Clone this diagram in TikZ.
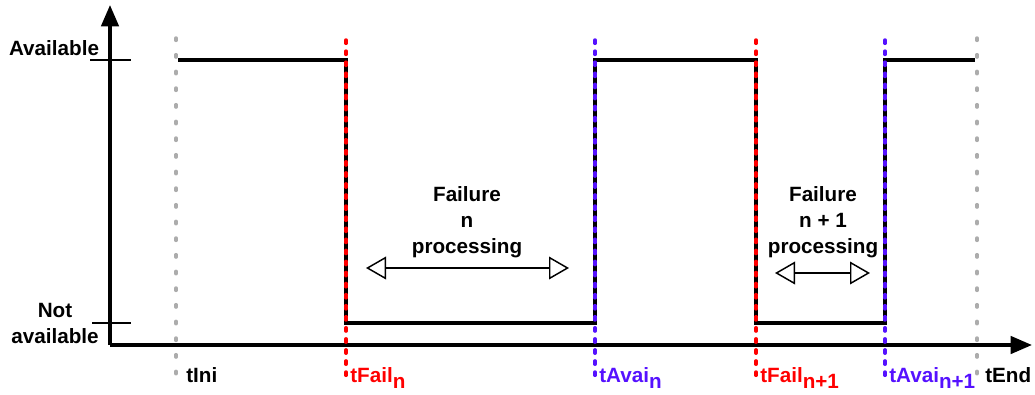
\documentclass[tikz,border=0pt]{standalone}
\usepackage{fontspec}
\setmainfont{Liberation Sans}
\usetikzlibrary{arrows.meta}
\definecolor{failred}{RGB}{255,0,0}
\definecolor{avaiblue}{RGB}{85,17,255}
\newcommand{\lowsub}[1]{\raisebox{-4.5pt}{#1}}
\tikzset{
    every node/.style={font=\bfseries\fontsize{15.5}{19.5}\selectfont, inner sep=0pt},
    axisline/.style={line width=2.6pt, -{Triangle[width=13pt,length=16pt]}},
    signal/.style={line width=2.3pt},
    levtick/.style={line width=1.2pt},
    greymark/.style={gray!65, line width=2.6pt, line cap=round, dash pattern=on 1.8pt off 10.7pt},
    failmark/.style={failred, line width=2.6pt, line cap=round, dash pattern=on 2.5pt off 5.8pt},
    avaimark/.style={avaiblue, line width=2.6pt, line cap=round, dash pattern=on 2.5pt off 5.8pt},
    span/.style={line width=1.1pt, {Triangle[open,width=17pt,length=15pt]}-{Triangle[open,width=17pt,length=15pt]}}
}
\begin{document}
\begin{tikzpicture}[x=0.75pt, y=-0.75pt]
    \useasboundingbox (0,0) rectangle (1035,394);
    % axes
    \coordinate (origin) at (110,345);
    \coordinate (ytop) at (110,5);
    \coordinate (xend) at (1032,345);
    \draw[axisline] (origin) -- (ytop);
    \draw[axisline] (origin) -- (xend);
    % level ticks and labels
    \draw[levtick] (90,60) -- (131,60);
    \draw[levtick] (92,323) -- (131,323);
    \node (avail) at (54,48) {Available};
    \node[align=center] (notavail) at (55,323) {Not\\available};
    % time markers
    \draw[greymark] (176,38) -- (176,376);
    \draw[greymark] (977,38) -- (977,376);
    % signal
    \coordinate (s0) at (178,60);
    \coordinate (s1) at (346,60);
    \coordinate (s2) at (346,323);
    \coordinate (s3) at (595,323);
    \coordinate (s4) at (595,60);
    \coordinate (s5) at (756,60);
    \coordinate (s6) at (756,323);
    \coordinate (s7) at (885,323);
    \coordinate (s8) at (885,60);
    \coordinate (s9) at (975,60);
    \draw[signal] (s0) -- (s1) -- (s2) -- (s3) -- (s4) -- (s5) -- (s6) -- (s7) -- (s8) -- (s9);
    \draw[failmark] (346,40) -- (346,380);
    \draw[failmark] (756,40) -- (756,380);
    \draw[avaimark] (595,40) -- (595,380);
    \draw[avaimark] (885,40) -- (885,380);
    % time labels
    \node[anchor=base west] (tini) at (186,382) {tIni};
    \node[anchor=base west, text=failred] (tfailn) at (350,382) {tFail\lowsub{n}};
    \node[anchor=base west, text=avaiblue] (tavain) at (599,382) {tAvai\lowsub{n}};
    \node[anchor=base west, text=failred] (tfailnn) at (760,382) {tFail\lowsub{n+1}};
    \node[anchor=base west, text=avaiblue] (tavainn) at (889,382) {tAvai\lowsub{n+1}};
    \node[anchor=base west] (tend) at (985,382) {tEnd};
    % failure spans
    \node[align=center] (fail1) at (467,222) {Failure\\n\\processing};
    \coordinate (f1a) at (366,268);
    \coordinate (f1b) at (569,268);
    \draw[span] (f1a) -- (f1b);
    \node[align=center] (fail2) at (823,222) {Failure\\n + 1\\processing};
    \coordinate (f2a) at (775,273);
    \coordinate (f2b) at (870,273);
    \draw[span] (f2a) -- (f2b);
\end{tikzpicture}
\end{document}
